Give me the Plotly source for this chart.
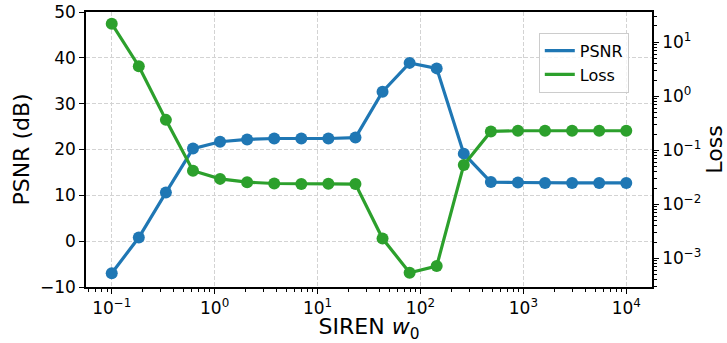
import plotly.graph_objects as go

# Data
w0 = [0.1, 0.1833, 0.336, 0.616, 1.129, 2.069, 3.793, 6.952, 12.74, 23.36,
      42.81, 78.48, 143.8, 263.7, 483.3, 885.9, 1624, 2976, 5456, 10000]
psnr = [-7.0, 0.8, 10.6, 20.2, 21.7, 22.2, 22.4, 22.4, 22.4, 22.6,
        32.6, 38.9, 37.7, 19.1, 12.9, 12.8, 12.7, 12.7, 12.7, 12.7]
loss = [22.1, 3.6, 0.366, 0.042, 0.0296, 0.0257, 0.0243, 0.0238, 0.024, 0.0237,
        0.00233, 0.000543, 0.00072, 0.0536, 0.224, 0.23, 0.23, 0.23, 0.23, 0.23]

x_tickvals = [0.1, 1, 10, 100, 1000, 10000]
x_ticktext = ["10<sup>−1</sup>", "10<sup>0</sup>", "10<sup>1</sup>",
              "10<sup>2</sup>", "10<sup>3</sup>", "10<sup>4</sup>"]
y2_tickvals = [1e-3, 1e-2, 1e-1, 1, 10]
y2_ticktext = ["10<sup>−3</sup>", "10<sup>−2</sup>", "10<sup>−1</sup>",
               "10<sup>0</sup>", "10<sup>1</sup>"]

BLUE = "#1f77b4"
GREEN = "#2ca02c"
FONT = "DejaVu Sans"

fig = go.Figure()
fig.add_trace(go.Scatter(x=w0, y=psnr, mode="lines+markers", name="PSNR",
                         line=dict(color=BLUE, width=3.2),
                         marker=dict(color=BLUE, size=12), showlegend=False))
fig.add_trace(go.Scatter(x=w0, y=loss, mode="lines+markers", name="Loss",
                         yaxis="y2", line=dict(color=GREEN, width=3.2),
                         marker=dict(color=GREEN, size=12), showlegend=False))
# legend-only entries (lines only, as in reference)
fig.add_trace(go.Scatter(x=[None], y=[None], mode="lines", name="PSNR",
                         line=dict(color=BLUE, width=3.2)))
fig.add_trace(go.Scatter(x=[None], y=[None], mode="lines", name="Loss",
                         yaxis="y2", line=dict(color=GREEN, width=3.2)))

grid = dict(showgrid=True, gridcolor="#d3d3d3", griddash="4px,2px", gridwidth=1)

fig.update_layout(
    width=727, height=343,
    margin=dict(l=86, r=75, t=12, b=56, autoexpand=False),
    paper_bgcolor="white", plot_bgcolor="white",
    font=dict(family=FONT, size=17, color="black"),
    xaxis=dict(type="log", range=[-1.25, 4.25], automargin=False,
               tickmode="array", tickvals=x_tickvals, ticktext=x_ticktext,
               ticks="outside", ticklen=5, tickwidth=1.2, tickcolor="black",
               showline=True, linecolor="black", linewidth=1.5, mirror=True,
               zeroline=False,
               minor=dict(dtick="D1", ticks="outside", ticklen=3, tickcolor="black",
                          tickwidth=1, showgrid=False),
               title=dict(text="SIREN <i>w</i><sub>0</sub>", font=dict(size=22),
                          standoff=3),
               **grid),
    yaxis=dict(range=[-10, 50], dtick=10, tick0=0, automargin=False,
               ticks="outside", ticklen=5, tickwidth=1.2, tickcolor="black",
               showline=True, linecolor="black", linewidth=1.5, mirror=True,
               zeroline=False,
               title=dict(text="PSNR (dB)", font=dict(size=22), standoff=4),
               **grid),
    yaxis2=dict(type="log", range=[-3.53, 1.56], overlaying="y", side="right",
                automargin=False,
                tickmode="array", tickvals=y2_tickvals, ticktext=y2_ticktext,
                ticks="outside", ticklen=5, tickwidth=1.2, tickcolor="black",
                showline=True, linecolor="black", linewidth=1.5,
                showgrid=False, zeroline=False,
                minor=dict(dtick="D1", ticks="outside", ticklen=3, tickcolor="black",
                           tickwidth=1, showgrid=False),
                title=dict(text="Loss", font=dict(size=22), standoff=8)),
    legend=dict(x=0.8, y=0.925, xanchor="left", yanchor="top",
                bgcolor="rgba(255,255,255,0.8)", bordercolor="#cccccc",
                borderwidth=1, font=dict(size=16, family=FONT)),
)

fig.write_html("out.html")
